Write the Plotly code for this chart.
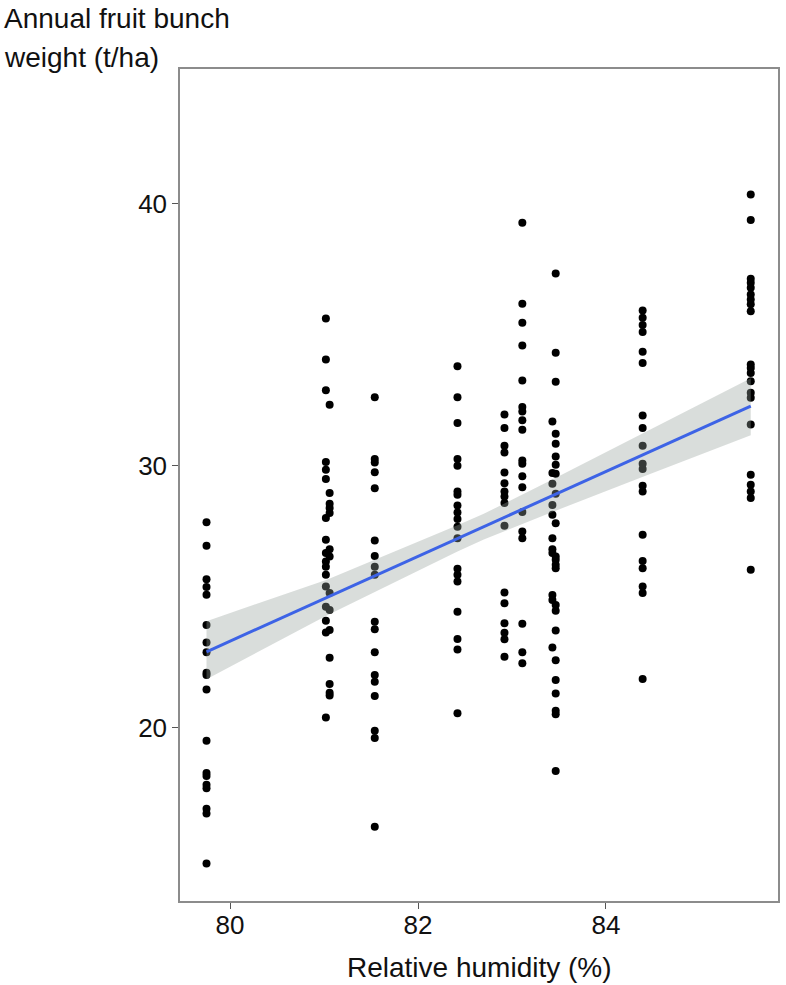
import plotly.graph_objects as go

# ---- data (relative humidity %, annual FFB t/ha) ----
rh_col1 = 79.75
ffb_col1 = [27.84, 26.94, 25.66, 25.36, 25.07, 23.91, 23.24, 22.87, 22.09, 22.0,
            21.45, 19.49, 18.26, 18.14, 17.81, 17.68, 16.89, 16.71, 14.80]
rh_col2a = 81.02
ffb_col2a = [35.62, 34.05, 32.88, 30.14, 29.84, 29.49, 28.0, 27.17, 26.66, 26.34,
             26.14, 25.83, 25.38, 24.61, 24.07, 23.63, 20.38]
rh_col2b = 81.06
ffb_col2b = [32.33, 28.95, 28.54, 28.38, 28.19, 26.81, 26.53, 25.13, 24.49, 23.72,
             22.66, 21.66, 21.32, 21.22]
rh_col3 = 81.54
ffb_col3 = [32.61, 30.25, 30.12, 29.75, 29.14, 27.14, 26.55, 26.14, 25.83, 24.04,
            23.75, 22.87, 22.0, 21.74, 21.20, 19.87, 19.60, 16.21]
rh_col4 = 82.42
ffb_col4 = [33.80, 32.61, 31.63, 30.25, 30.0, 29.01, 28.89, 28.48, 28.21, 27.96,
            27.67, 27.23, 26.06, 25.83, 25.57, 24.42, 23.38, 22.98, 20.54]
rh_col5 = 82.92
ffb_col5 = [31.95, 31.44, 30.76, 30.5, 29.74, 29.33, 29.01, 28.82, 28.57, 27.70,
            25.15, 24.74, 23.98, 23.62, 23.37, 22.70]
rh_col6 = 83.11
ffb_col6 = [39.28, 36.18, 35.46, 34.59, 33.25, 32.24, 32.07, 31.73, 31.37, 30.20,
            30.07, 29.59, 29.17, 28.23, 27.48, 27.23, 23.96, 22.87, 22.45]
rh_col7a = 83.43
ffb_col7a = [31.69, 29.72, 29.31, 28.5, 28.12, 27.23, 26.81, 26.66, 25.06, 24.87, 23.05]
rh_col7b = 83.465
ffb_col7b = [37.34, 34.31, 33.20, 31.22, 30.84, 30.35, 30.03, 29.69, 28.93, 27.80,
             26.53, 26.40, 26.21, 26.08, 24.68, 24.46, 23.70, 22.57, 21.81, 21.30,
             20.64, 20.50, 18.34]
rh_col8 = 84.39
ffb_col8 = [35.93, 35.65, 35.37, 35.10, 34.35, 33.92, 31.91, 31.44, 30.76, 30.07,
            29.87, 29.23, 29.01, 27.36, 26.36, 26.08, 25.38, 25.13, 21.85]
rh_col9 = 85.54
ffb_col9 = [40.36, 39.38, 37.14, 36.99, 36.79, 36.54, 36.35, 36.16, 35.90, 33.86,
            33.73, 33.54, 33.22, 32.78, 32.59, 31.57, 29.65, 29.27, 29.01, 28.76, 26.02]

# linear-fit line and its 95% confidence band
fit_rh = [79.75, 85.54]
fit_ffb = [22.89, 32.27]
band_rh = [79.75, 81.03, 82.42, 82.70, 83.43, 84.40, 85.19, 85.54]
band_lo = [21.84, 24.28, 26.72, 27.18, 28.23, 29.58, 30.68, 31.16]
band_hi = [24.06, 25.64, 27.72, 28.16, 29.47, 31.26, 32.72, 33.34]

x_ticks = [80, 82, 84]
y_ticks = [20, 30, 40]
x_title = "Relative humidity (%)"
y_title_lines = ["Annual fruit bunch", "weight (t/ha)"]

groups = [(rh_col1, ffb_col1), (rh_col2a, ffb_col2a), (rh_col2b, ffb_col2b),
          (rh_col3, ffb_col3), (rh_col4, ffb_col4), (rh_col5, ffb_col5),
          (rh_col6, ffb_col6), (rh_col7a, ffb_col7a), (rh_col7b, ffb_col7b),
          (rh_col8, ffb_col8), (rh_col9, ffb_col9)]
x = [g[0] for g in groups for _ in g[1]]
y = [v for g in groups for v in g[1]]

FONT = "Liberation Sans, Arial, Helvetica, sans-serif"

fig = go.Figure()
fig.add_trace(go.Scatter(x=x, y=y, mode="markers",
                         marker=dict(size=8, color="black", line=dict(width=0)),
                         showlegend=False, hoverinfo="x+y"))
fig.add_trace(go.Scatter(x=band_rh + band_rh[::-1],
                         y=band_hi + band_lo[::-1],
                         fill="toself", fillcolor="rgba(150,160,156,0.36)",
                         line=dict(width=0), mode="lines",
                         showlegend=False, hoverinfo="skip"))
fig.add_trace(go.Scatter(x=fit_rh, y=fit_ffb, mode="lines",
                         line=dict(color="#3d63e6", width=3),
                         showlegend=False, hoverinfo="skip"))

axis_common = dict(showgrid=False, zeroline=False, showline=True, mirror=True,
                   linecolor="#8c8c8c", linewidth=1.5,
                   ticks="outside", ticklen=6, tickwidth=1.2, tickcolor="#555555",
                   tickfont=dict(family=FONT, size=26, color="#111111"))

fig.update_layout(
    width=786, height=985, autosize=False,
    margin=dict(l=180, r=6, t=69, b=84, pad=0),
    paper_bgcolor="white", plot_bgcolor="white",
    font=dict(family=FONT, color="#111111"),
    xaxis=dict(range=[79.468, 85.83], tickvals=x_ticks, ticktext=[str(v) for v in x_ticks],
               ticklabelstandoff=-6, **axis_common),
    yaxis=dict(range=[13.37, 45.15], tickvals=y_ticks, ticktext=[str(v) for v in y_ticks],
               **axis_common),
    annotations=[
        dict(text=y_title_lines[0], xref="paper", yref="paper", x=-0.298, y=1.0609,
             xanchor="left", yanchor="middle", showarrow=False,
             font=dict(family=FONT, size=28, color="#111111")),
        dict(text=y_title_lines[1], xref="paper", yref="paper", x=-0.298, y=1.0136,
             xanchor="left", yanchor="middle", showarrow=False,
             font=dict(family=FONT, size=28, color="#111111")),
        dict(text=x_title, xref="paper", yref="paper", x=0.5, y=-0.0802,
             xanchor="center", yanchor="middle", showarrow=False,
             font=dict(family=FONT, size=28, color="#111111")),
    ],
)

fig.write_html("out.html", config={"displayModeBar": False},
               post_script="document.body.style.margin='0';document.body.style.overflow='hidden';")
